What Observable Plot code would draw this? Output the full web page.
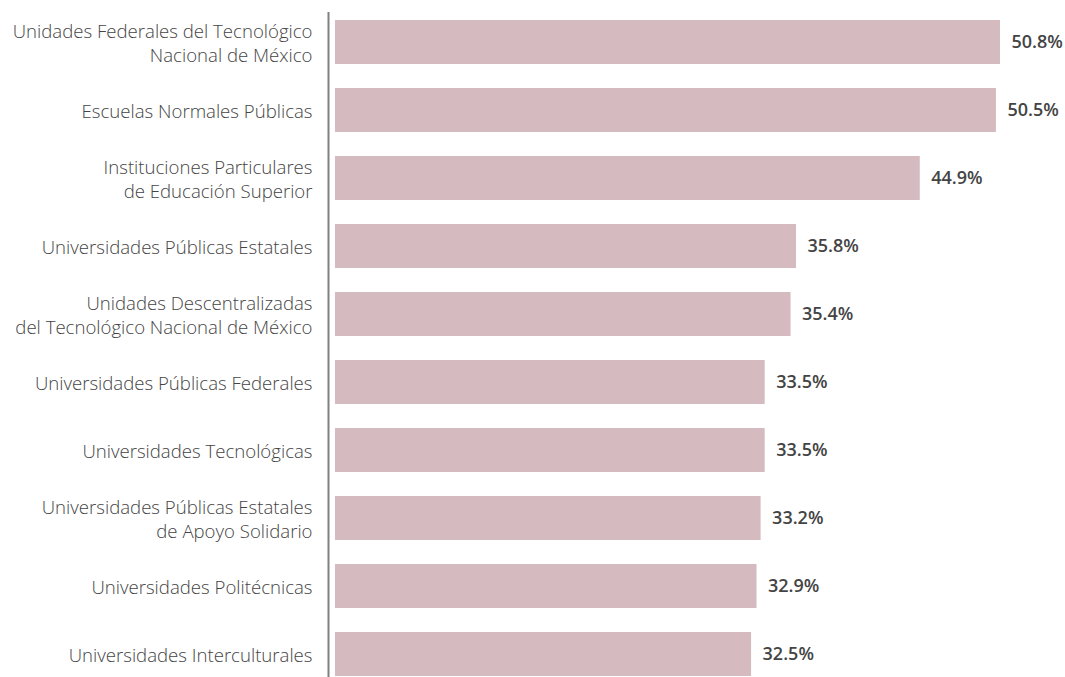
<!DOCTYPE html>
<html>
<head>
<meta charset="utf-8">
<script src="https://cdn.jsdelivr.net/npm/d3@7"></script>
<script src="https://cdn.jsdelivr.net/npm/@observablehq/plot@0.6"></script>
<style>
  html, body { margin: 0; padding: 0; background: #fff; }
  #chart svg { display: block; }
</style>
</head>
<body>
<div id="chart"></div>
<script>
const categories = [
  "Unidades Federales del Tecnológico\nNacional de México",
  "Escuelas Normales Públicas",
  "Instituciones Particulares\nde Educación Superior",
  "Universidades Públicas Estatales",
  "Unidades Descentralizadas\ndel Tecnológico Nacional de México",
  "Universidades Públicas Federales",
  "Universidades Tecnológicas",
  "Universidades Públicas Estatales\nde Apoyo Solidario",
  "Universidades Politécnicas",
  "Universidades Interculturales"
];
const values = [50.8, 50.5, 44.9, 35.8, 35.4, 33.5, 33.5, 33.2, 32.9, 32.5];
const valueLabels = ["50.8%", "50.5%", "44.9%", "35.8%", "35.4%", "33.5%", "33.5%", "33.2%", "32.9%", "32.5%"];

const data = categories.map((c, i) => ({category: c, value: values[i], label: valueLabels[i]}));

const chart = Plot.plot({
  width: 1065,
  height: 677,
  marginLeft: 309,
  marginRight: 65,
  marginTop: 18,
  marginBottom: 0,
  style: {fontFamily: "'Open Sans', sans-serif", background: "#fff"},
  x: {domain: [0, 50.8], axis: null},
  y: {domain: categories, paddingInner: 0.356, paddingOuter: 0, label: null},
  marks: [
    Plot.barX(data, {y: "category", x: "value", fill: "#d5babf", insetLeft: 26}),
    Plot.ruleX([0], {dx: 19, stroke: "#808080", strokeWidth: 2, insetTop: -6}),
    Plot.axisY({tickSize: 0, tickPadding: 0, dx: 3, fontSize: 18.6, fontWeight: 300, fill: "#444", lineHeight: 1.3}),
    Plot.text(data, {y: "category", x: "value", text: "label", textAnchor: "start", dx: 11,
      fontSize: 18, fontWeight: 600, fill: "#444", letterSpacing: -0.5})
  ]
});
document.getElementById("chart").appendChild(chart);
</script>
</body>
</html>
